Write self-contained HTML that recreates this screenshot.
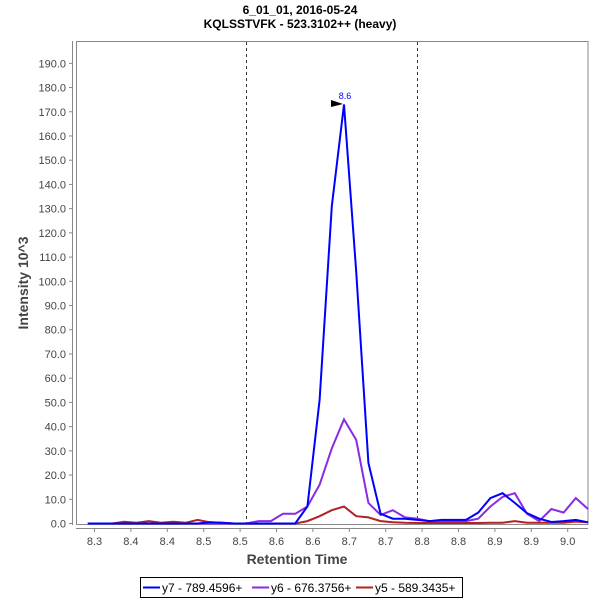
<!DOCTYPE html>
<html><head><meta charset="utf-8"><style>
body{margin:0;background:#fff;width:600px;height:600px;overflow:hidden;font-family:"Liberation Sans",sans-serif}
</style></head><body>
<svg id="s" width="600" height="600" xmlns="http://www.w3.org/2000/svg" font-family="Liberation Sans, sans-serif">
<rect width="600" height="600" fill="#fff"/>
<text x="300" y="14" font-size="12" font-weight="bold" text-anchor="middle">6_01_01, 2016-05-24</text>
<text x="300" y="28" font-size="12" font-weight="bold" text-anchor="middle">KQLSSTVFK - 523.3102++ (heavy)</text>
<rect x="76.5" y="41.5" width="511.5" height="483" fill="#fff" stroke="#888" stroke-width="1"/>
<line x1="72.5" y1="41" x2="72.5" y2="525" stroke="#888"/>
<line x1="76" y1="528.5" x2="588" y2="528.5" stroke="#888"/>
<g id="yt" font-size="11" fill="#444" text-anchor="end"></g>
<g id="xt" font-size="11" fill="#444" text-anchor="middle"></g>
<line x1="246.5" y1="42" x2="246.5" y2="524" stroke="#333" stroke-dasharray="3,3"/>
<line x1="417.5" y1="42" x2="417.5" y2="524" stroke="#333" stroke-dasharray="3,3"/>
<text x="297" y="564" font-size="14" font-weight="bold" fill="#444" text-anchor="middle">Retention Time</text>
<text transform="translate(28,283) rotate(-90)" font-size="14" font-weight="bold" fill="#444" text-anchor="middle">Intensity 10^3</text>
<polyline id="r" fill="none" stroke="#b22222" stroke-width="2"/>
<polyline id="p" fill="none" stroke="#8a2be2" stroke-width="2"/>
<polyline id="b" fill="none" stroke="#0000ff" stroke-width="2"/>
<polygon points="331,100 343,104 331,107" fill="#000"/>
<text x="345" y="99" font-size="9" fill="#0000ff" text-anchor="middle">8.6</text>
<rect x="140.5" y="577.5" width="322" height="20" fill="#fff" stroke="#000"/>
<line x1="143" y1="587.5" x2="160" y2="587.5" stroke="#0000ff" stroke-width="2"/>
<text x="162" y="592" font-size="12">y7 - 789.4596+</text>
<line x1="252" y1="587.5" x2="269" y2="587.5" stroke="#8a2be2" stroke-width="2"/>
<text x="271" y="592" font-size="12">y6 - 676.3756+</text>
<line x1="356" y1="587.5" x2="373" y2="587.5" stroke="#b22222" stroke-width="2"/>
<text x="375" y="592" font-size="12">y5 - 589.3435+</text>
</svg>
<script>
var NS="http://www.w3.org/2000/svg";
function Y(v){return 523.5-v*2.422;}
var yt=document.getElementById('yt'),xt=document.getElementById('xt'),s=document.getElementById('s');
for(var i=0;i<=19;i++){var y=Y(i*10);
var t=document.createElementNS(NS,'text');t.setAttribute('x',66);t.setAttribute('y',y+4);t.textContent=(i*10).toFixed(1);yt.appendChild(t);
var l=document.createElementNS(NS,'line');l.setAttribute('x1',69);l.setAttribute('x2',72);l.setAttribute('y1',y);l.setAttribute('y2',y);l.setAttribute('stroke','#888');s.insertBefore(l,yt);}
var lab=["8.3","8.4","8.4","8.5","8.5","8.6","8.6","8.7","8.7","8.8","8.8","8.9","8.9","9.0"];
for(var i=0;i<14;i++){var x=94.5+i*36.4;
var t=document.createElementNS(NS,'text');t.setAttribute('x',x);t.setAttribute('y',545);t.textContent=lab[i];xt.appendChild(t);
var l=document.createElementNS(NS,'line');l.setAttribute('x1',x);l.setAttribute('x2',x);l.setAttribute('y1',529);l.setAttribute('y2',532);l.setAttribute('stroke','#888');s.insertBefore(l,xt);}
var B=[0,0,0,0,0,0,0,0,0,0,0.5,0.3,0,0,0,0,0,0,7,51,131,173,104,25,4,2,2,1.5,1,1.5,1.5,1.5,4.5,10.5,12.5,8.5,4.3,2,0.6,1,1.5,0.5];
var P=[0,0,0,0,0,0,0,0,0,0,0,0,0,0,1,1,4,4,7,16,31,43,34.5,8.5,3.5,5.5,2.5,2,1,1,1,1,2,7,11,12.5,4,1,6,4.5,10.5,6];
var R=[0,0,0,0.7,0.3,1,0.3,0.7,0.3,1.5,0.5,0.3,0,0,0,0,0,0,1,3,5.5,7,3,2.5,1,0.5,0.3,0.2,0.2,0.2,0.2,0.2,0.2,0.3,0.3,1,0.3,0.3,0.3,0.3,0.8,0.5];
function pts(a){var r=[];for(var i=0;i<a.length;i++)r.push((87.8+i*12.2).toFixed(1)+','+Y(a[i]).toFixed(1));return r.join(' ');}
document.getElementById('b').setAttribute('points',pts(B));
document.getElementById('p').setAttribute('points',pts(P));
document.getElementById('r').setAttribute('points',pts(R));
</script>
</body></html>
